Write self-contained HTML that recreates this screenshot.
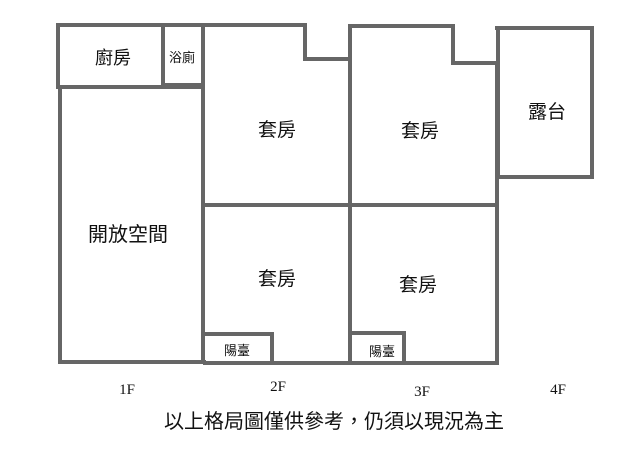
<!DOCTYPE html>
<html><head><meta charset="utf-8"><style>
html,body{margin:0;padding:0;background:#fff;width:638px;height:460px;overflow:hidden}
svg{display:block}
.c{font-family:"Liberation Sans","Noto Sans CJK TC",sans-serif;fill:#111;text-anchor:middle}
.f{font-family:"Liberation Serif",serif;fill:#111;text-anchor:middle;font-size:15px}
</style></head><body>
<svg width="638" height="460" viewBox="0 0 638 460" xmlns="http://www.w3.org/2000/svg">
<g fill="none" stroke="#666" stroke-width="4" stroke-linecap="square">
<path d="M58,25 H305 V59 H350"/>
<path d="M58,25 V87 M60,87 V362 H204"/>
<path d="M59,87 H203"/>
<path d="M163,26 V83 M163,85 H202"/>
<path d="M203,26 V362"/>
<path d="M205,205 H350"/>
<path d="M205,363 H350"/>
<path d="M207,334 H272 V362"/>
<path d="M350,26 V363"/>
<path d="M350,26 H453 V63 H497"/>
<path d="M497,63 V363 H351"/>
<path d="M351,205 H497"/>
<path d="M352,333 H404 V362"/>
<path d="M497,28 H592 V177 H498 V28"/>
</g>
<rect x="163" y="83" width="40" height="5" fill="#666"/>
<text class="c" x="113" y="64" font-size="18">廚房</text>
<text class="c" x="182" y="62" font-size="13">浴廁</text>
<text class="c" x="277" y="136" font-size="19">套房</text>
<text class="c" x="420" y="137" font-size="19">套房</text>
<text class="c" x="547" y="118" font-size="19">露台</text>
<text class="c" x="128" y="241" font-size="20">開放空間</text>
<text class="c" x="277" y="285" font-size="19">套房</text>
<text class="c" x="418" y="291" font-size="19">套房</text>
<text class="c" x="237" y="355" font-size="13">陽臺</text>
<text class="c" x="382" y="356" font-size="13">陽臺</text>
<text class="f" x="127" y="394">1F</text>
<text class="f" x="278" y="391">2F</text>
<text class="f" x="422" y="396">3F</text>
<text class="f" x="558" y="394">4F</text>
<text class="c" x="334" y="428" font-size="20">以上格局圖僅供參考，仍須以現況為主</text>
</svg>
</body></html>
